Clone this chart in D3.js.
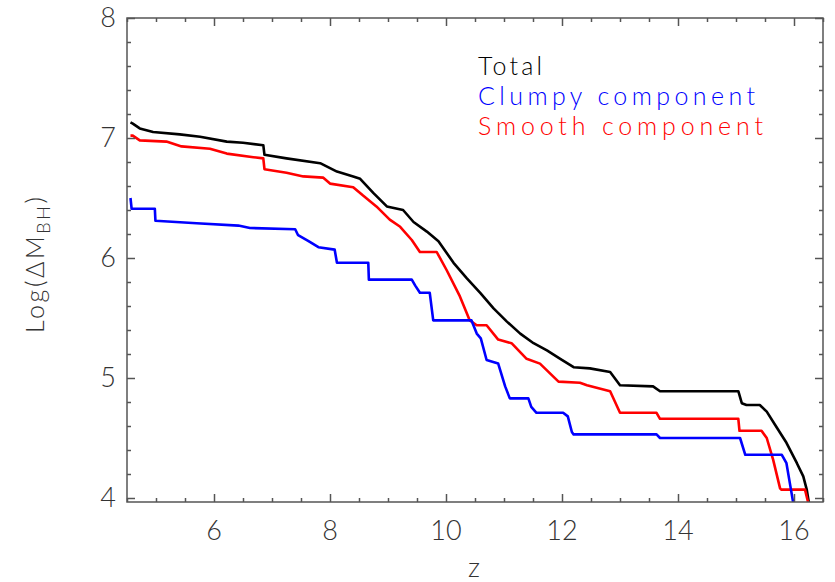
<!DOCTYPE html>
<html><head><meta charset="utf-8">
<script src="https://cdn.jsdelivr.net/npm/d3@7"></script>
<style>body{margin:0;background:#fff}svg{display:block}</style>
</head><body>
<svg id="c" width="835" height="582"></svg>
<script>
const xMajorTicks = [6, 8, 10, 12, 14, 16];
const yMajorTicks = [4, 5, 6, 7, 8];
const legendLabels = ["Total", "Clumpy component", "Smooth component"];
const seriesColors = ["#000000", "#0000ff", "#ff0000"];

const totalZ = [4.56,4.6,4.72,4.95,5.41,5.76,6.22,6.5,6.85,6.87,7.25,7.83,8.12,8.40,8.52,8.75,8.98,9.26,9.44,9.67,9.87,10.13,10.36,10.59,10.82,11.05,11.28,11.51,11.74,11.97,12.20,12.48,12.83,13.0,13.57,13.69,15.04,15.1,15.18,15.41,15.53,15.70,15.87,16.05,16.16,16.22,16.26];
const totalV = [7.13,7.12,7.08,7.05,7.03,7.01,6.97,6.96,6.94,6.86,6.83,6.79,6.72,6.68,6.66,6.54,6.43,6.40,6.30,6.22,6.14,5.96,5.83,5.71,5.58,5.47,5.37,5.29,5.23,5.16,5.09,5.08,5.05,4.94,4.93,4.89,4.89,4.79,4.775,4.775,4.72,4.59,4.46,4.29,4.18,4.07,3.95];

const smoothZ = [4.56,4.6,4.72,5.18,5.44,5.93,6.22,6.68,6.85,6.87,7.25,7.54,7.88,8.0,8.40,8.57,8.80,9.03,9.21,9.41,9.55,9.84,10.01,10.24,10.41,10.53,10.70,10.90,11.13,11.39,11.62,11.94,12.31,12.43,12.83,13.0,13.63,13.69,15.04,15.06,15.44,15.53,15.64,15.76,15.78,16.19,16.25];
const smoothV = [7.02,7.02,6.98,6.97,6.93,6.91,6.87,6.84,6.83,6.74,6.71,6.68,6.67,6.62,6.59,6.52,6.43,6.32,6.26,6.15,6.05,6.05,5.90,5.68,5.48,5.44,5.44,5.32,5.29,5.16,5.12,4.97,4.96,4.94,4.89,4.71,4.71,4.66,4.66,4.56,4.56,4.50,4.32,4.08,4.07,4.07,3.95];

const clumpyZ = [4.56,4.58,4.98,4.99,5.70,6.42,6.62,7.40,7.45,7.63,7.80,8.08,8.12,8.66,8.67,9.41,9.47,9.55,9.72,9.78,10.44,10.53,10.6,10.70,10.90,11.02,11.10,11.42,11.47,11.56,12.02,12.10,12.17,12.2,13.63,13.69,15.07,15.16,15.79,15.87,15.93,15.99];
const clumpyV = [6.50,6.41,6.41,6.31,6.29,6.27,6.25,6.24,6.19,6.14,6.09,6.07,5.96,5.96,5.82,5.82,5.77,5.71,5.71,5.48,5.48,5.37,5.33,5.15,5.12,4.93,4.83,4.83,4.76,4.71,4.71,4.68,4.55,4.53,4.53,4.50,4.50,4.36,4.36,4.29,4.12,3.95];

const W = 835, H = 582;
const L = 127, R = 823, T = 18, B = 502;
const svg = d3.select("#c");
const x = d3.scaleLinear().domain([4.5, 16.5]).range([L, R]);
const y = d3.scaleLinear().domain([8 - (B - T) / 120, 8]).range([B, T]);

const axisColor = "#555";
const fontFam = "Lato, 'Open Sans', sans-serif";

svg.append("defs").append("clipPath").attr("id", "clip")
  .append("rect").attr("x", L).attr("y", T).attr("width", R - L).attr("height", B - T);

const series = [
  {z: totalZ, v: totalV, c: seriesColors[0]},
  {z: smoothZ, v: smoothV, c: seriesColors[2]},
  {z: clumpyZ, v: clumpyV, c: seriesColors[1]}
];
const line = d3.line().x(d => x(d[0])).y(d => y(d[1]));
const g = svg.append("g").attr("clip-path", "url(#clip)");
series.forEach(s => {
  g.append("path").datum(s.z.map((z, i) => [z, s.v[i]]))
    .attr("d", line).attr("fill", "none").attr("stroke", s.c)
    .attr("stroke-width", 2.6).attr("stroke-linejoin", "round");
});

const xMinor = d3.range(4.5, 16.51, 0.5).filter(t => !xMajorTicks.includes(t));
const yMinor = d3.range(4, 8.001, 0.2).map(t => Math.round(t * 10) / 10).filter(t => !yMajorTicks.includes(t));

function styleAxis(sel) {
  sel.select(".domain").remove();
  sel.selectAll("line").attr("stroke", axisColor).attr("stroke-width", 1.5);
  sel.selectAll("text").remove();
}
[[d3.axisBottom, B], [d3.axisTop, T]].forEach(([ax, pos]) => {
  svg.append("g").attr("transform", `translate(0,${pos})`)
    .call(ax(x).tickValues(xMajorTicks).tickSize(-8)).call(styleAxis);
  svg.append("g").attr("transform", `translate(0,${pos})`)
    .call(ax(x).tickValues(xMinor).tickSize(-4)).call(styleAxis);
});
[[d3.axisLeft, L], [d3.axisRight, R]].forEach(([ax, pos]) => {
  svg.append("g").attr("transform", `translate(${pos},0)`)
    .call(ax(y).tickValues(yMajorTicks).tickSize(-8)).call(styleAxis);
  svg.append("g").attr("transform", `translate(${pos},0)`)
    .call(ax(y).tickValues(yMinor).tickSize(-4)).call(styleAxis);
});
svg.append("rect").attr("x", L).attr("y", T).attr("width", R - L).attr("height", B - T)
  .attr("fill", "none").attr("stroke", axisColor).attr("stroke-width", 1.5);

// tick labels
svg.append("g").selectAll("text").data(xMajorTicks).join("text")
  .attr("x", d => x(d)).attr("y", 540).attr("text-anchor", "middle")
  .attr("font-family", fontFam).attr("font-weight", 300).attr("font-size", 27).attr("fill", "#333")
  .text(d => d);
svg.append("g").selectAll("text").data(yMajorTicks).join("text")
  .attr("x", 116).attr("y", d => y(d) + 9).attr("text-anchor", "end")
  .attr("font-family", fontFam).attr("font-weight", 300).attr("font-size", 27).attr("fill", "#333")
  .text(d => d);

// axis titles
svg.append("text").attr("x", 474).attr("y", 577).attr("text-anchor", "middle")
  .attr("font-family", fontFam).attr("font-weight", 300).attr("font-size", 27).attr("fill", "#333").text("z");
const yt = svg.append("text").attr("transform", "translate(44,333) rotate(-90)")
  .attr("font-family", fontFam).attr("font-weight", 300).attr("font-size", 25).attr("fill", "#333")
  .attr("letter-spacing", 2.6);
yt.append("tspan").text("Log(ΔM");
yt.append("tspan").attr("dy", 6).attr("font-size", 18).text("BH");
yt.append("tspan").attr("dy", -6).text(")");

// legend
const legW = [64, 277, 285];
legendLabels.forEach((t, i) => {
  svg.append("text").attr("x", 478).attr("y", 75 + i * 30)
    .attr("font-family", fontFam).attr("font-weight", 300).attr("font-size", 25)
    .attr("fill", seriesColors[i]).attr("textLength", legW[i]).attr("lengthAdjust", "spacing")
    .text(t);
});
</script>
</body></html>
